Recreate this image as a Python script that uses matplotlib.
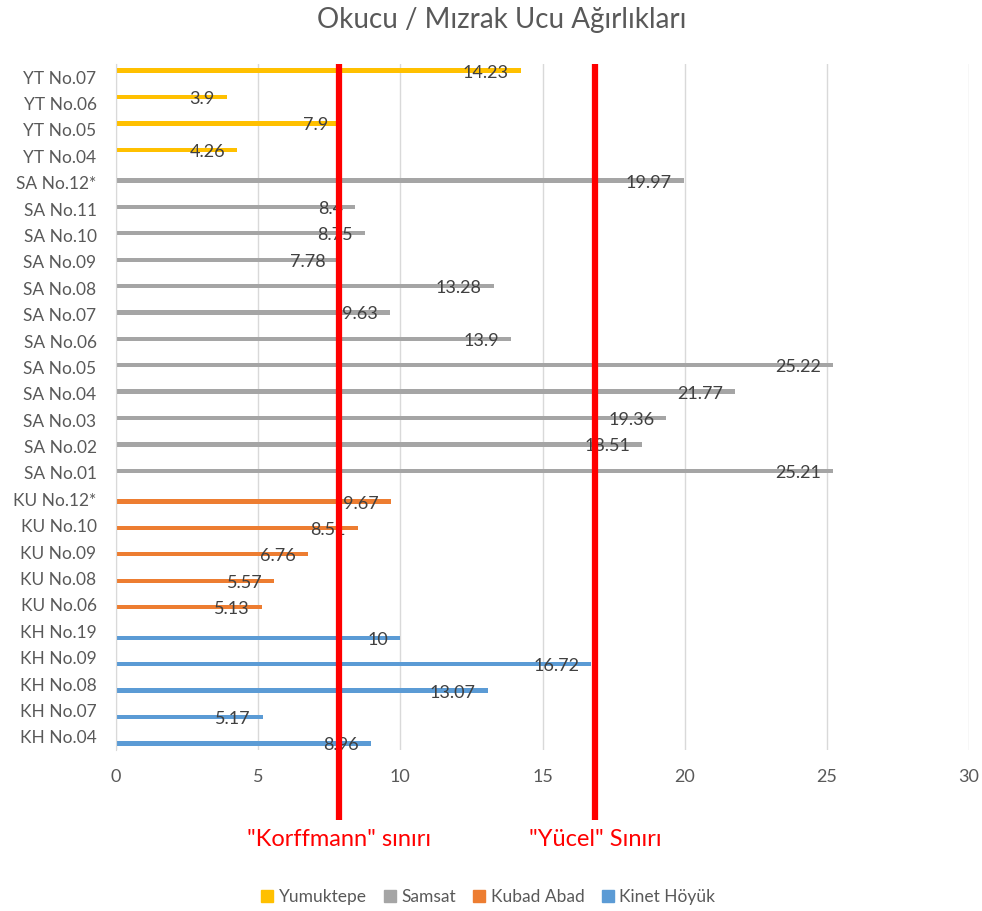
import numpy as np
import matplotlib
matplotlib.use("Agg")
import matplotlib.pyplot as plt
from matplotlib.patches import Patch
import matplotlib.transforms as mtransforms

plt.rcParams['font.family'] = ['Lato', 'DejaVu Sans']

labels = ["YT No.07", "YT No.06", "YT No.05", "YT No.04",
          "SA No.12*", "SA No.11", "SA No.10", "SA No.09", "SA No.08", "SA No.07",
          "SA No.06", "SA No.05", "SA No.04", "SA No.03", "SA No.02", "SA No.01",
          "KU No.12*", "KU No.10", "KU No.09", "KU No.08", "KU No.06",
          "KH No.19", "KH No.09", "KH No.08", "KH No.07", "KH No.04"]
weights = [14.23, 3.9, 7.9, 4.26,
           19.97, 8.4, 8.75, 7.78, 13.28, 9.63,
           13.9, 25.22, 21.77, 19.36, 18.51, 25.21,
           9.67, 8.51, 6.76, 5.57, 5.13,
           10, 16.72, 13.07, 5.17, 8.96]
sites = ["Yumuktepe", "Samsat", "Kubad Abad", "Kinet Höyük"]
prefixes = ["YT", "SA", "KU", "KH"]
colors = ["#FFC000", "#A5A5A5", "#ED7D31", "#5B9BD5"]

korffmann = 7.85
yucel = 16.85

fig = plt.figure(figsize=(9.82, 9.11), dpi=100)
ax = fig.add_axes([116 / 982, 1 - 750 / 911, (969 - 116) / 982, (750 - 64) / 911])

y = np.arange(len(labels))
w = 0.165
for i, (site, pre, c) in enumerate(zip(sites, prefixes, colors)):
    idx = [k for k, lab in enumerate(labels) if lab.startswith(pre)]
    vals = [weights[k] for k in idx]
    pos = y[idx] + (i - 1.5) * w
    ax.barh(pos, vals, height=w, color=c, zorder=2)
    for p, v in zip(pos, vals):
        ax.annotate(f"{v:g}", (v, p), xytext=(-12, -2), textcoords="offset pixels",
                    ha="right", va="center", fontsize=13, color="#404040", zorder=3)

ax.set_xlim(0, 30)
ax.set_ylim(len(labels) - 0.5, -0.5)
ax.set_xticks(np.arange(0, 31, 5))
ax.set_yticks(y)
ax.set_yticklabels(labels)
ax.tick_params(axis="both", length=0, labelsize=13, labelcolor="#595959")
ax.tick_params(axis="y", labelsize=12.5, pad=14)
ax.tick_params(axis="x", pad=14)
ax.grid(axis="x", color="#D9D9D9", linewidth=1, zorder=0)
for s in ["top", "right", "bottom"]:
    ax.spines[s].set_visible(False)
ax.spines["left"].set_color("#D9D9D9")

# vertical limit lines with their captions below the axis
trans = mtransforms.blended_transform_factory(ax.transData, ax.transAxes)
for xv, txt in [(korffmann, '"Korffmann" sınırı'), (yucel, '"Yücel" Sınırı')]:
    ax.plot([xv, xv], [-0.102, 1.0], transform=trans, color="#FF0000",
            linewidth=4.5, solid_capstyle="butt", clip_on=False, zorder=5)
    ax.text(xv, -0.131, txt, transform=trans, ha="center", va="center",
            fontsize=17, color="#FF0000")

fig.text(0.511, 1 - 20 / 911, "Okucu / Mızrak Ucu Ağırlıkları", ha="center", va="center",
         fontsize=20, color="#595959")

handles = [Patch(color=c, label=s) for s, c in zip(sites, colors)]
fig.legend(handles=handles, loc="center", bbox_to_anchor=(0.497, 1 - 897 / 911), ncol=4,
           frameon=False, fontsize=12.5, handlelength=0.7, handleheight=0.7,
           handletextpad=0.3, columnspacing=1.0, labelcolor="#595959")

fig.savefig("out.png", dpi=100)
